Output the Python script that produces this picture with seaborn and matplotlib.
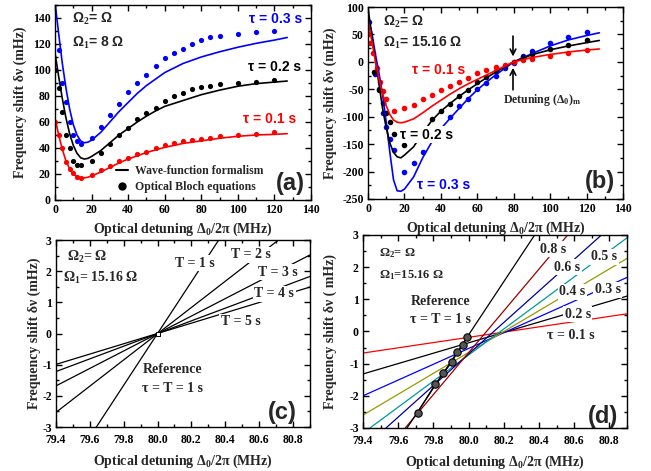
import matplotlib
matplotlib.use('Agg')
import matplotlib.pyplot as plt
from matplotlib.lines import Line2D
from matplotlib.ticker import MultipleLocator, FormatStrFormatter
import seaborn as sns

# ---------------- panel (a): Omega1 = 8 Omega ----------------
A_LINE_X = [0, 2, 4, 6, 8, 10, 12, 14, 16, 18, 20, 25, 30, 35, 40, 45, 50, 55, 60, 70, 80, 90, 100, 110, 120, 127]
A_LINE_03 = [152, 128, 105, 86, 70, 58, 50, 45.5, 44, 44.5, 46, 52, 60, 68, 75, 82, 88, 93, 98, 105, 110, 114, 117.5, 120.5, 123, 125]
A_LINE_02 = [113, 95, 78, 63, 51, 42, 36, 32.5, 31.5, 32, 33.5, 38, 44, 50, 55, 60, 64.5, 68.5, 72, 76.5, 81, 84.5, 87.5, 89.5, 90.7, 91.5]
A_LINE_01 = [63, 50, 39, 30, 24, 20, 18, 17, 17, 17.5, 18.5, 21.5, 25, 28.5, 31.5, 34, 36.5, 38.5, 40.5, 43.5, 45.5, 47.5, 49, 50, 50.5, 51]

A_DOT_X03 = [2, 4, 6, 8, 10, 12, 14, 20, 25, 30, 35, 40, 45, 50, 55, 60, 65, 70, 75, 80, 85, 90, 100, 110, 120]
A_DOT_03 = [115, 90, 75, 60, 50, 45, 43, 48, 56, 65, 74, 83, 90, 96, 103, 109, 113, 116, 120, 123, 125, 126, 128, 129, 130]
A_DOT_X = [0, 2, 4, 6, 8, 10, 12, 14, 20, 25, 30, 35, 40, 45, 50, 55, 60, 65, 70, 75, 80, 85, 90, 100, 110, 120]
A_DOT_02 = [100, 86, 68, 50, 40, 30, 27, 27, 30, 36, 43, 50, 55, 62, 67, 71, 76, 80, 82, 85, 87, 88, 89, 90, 91, 92]
A_DOT_01 = [60, 50, 40, 29, 24, 21, 18, 17, 19, 23, 26, 30, 32, 35, 37, 40, 42, 44, 45, 46, 47, 48, 49, 50, 51, 52]

# ---------------- panel (b): Omega1 = 15.16 Omega ----------------
B_LINE_X = [0, 2, 4, 6, 8, 10, 12, 14, 16, 18, 20, 25, 30, 35, 40, 45, 50, 55, 60, 65, 70, 75, 80, 90, 100, 110, 120, 127]
B_LINE_01 = [77, 40, 2, -30, -58, -80, -96, -106, -110, -111, -110, -104, -93, -81, -70, -59, -49, -40, -32, -24, -16, -8, 0, 8, 13.5, 18, 21.5, 23.5]
B_LINE_02 = [98, 50, 5, -40, -85, -120, -148, -165, -173, -175, -170, -155, -130, -107, -90, -76, -63, -51, -40, -29, -19, -9, 0, 13, 22, 29, 35, 39]
B_LINE_03 = [80, 55, 15, -20, -60, -110, -165, -215, -235, -236, -232, -210, -175, -146, -122, -103, -85, -67, -51, -37, -24, -12, 0, 15, 29, 40, 48, 53]

B_DOT_X01 = [0.5, 1, 2.5, 5, 6.5, 8, 10, 14, 20, 25, 30, 35, 40, 45, 50, 55, 60, 65, 70, 75, 80, 85, 90, 100, 110, 120]
B_DOT_01 = [50, 34, 16, -12, -36, -54, -68, -90, -85, -78, -68, -60, -51, -44, -37, -29, -21, -14, -9, -5, 0, 4, 6, 11, 16, 21]
B_DOT_X02 = [3.5, 6, 8, 10, 12, 14, 20, 35, 40, 45, 50, 55, 60, 65, 70, 75, 80, 85, 90, 100, 110, 120]
B_DOT_02 = [-19, -51, -75, -93, -110, -131, -151, -105, -90, -76, -63, -51, -37, -28, -16, -8, 0, 9, 15, 23, 31, 39]
B_DOT_X03 = [0.5, 4, 6, 8, 10, 12, 14, 20, 25, 30, 45, 50, 55, 60, 65, 70, 75, 80, 85, 90, 100, 110, 120]
B_DOT_03 = [73, -22, -50, -93, -119, -140, -160, -200, -185, -165, -100, -80, -68, -50, -38, -25, -11, -2, 11, 19, 34, 45, 54]

# ---------------- panel (c): straight lines, T = 1..5 s ----------------
C_X = [79.4, 80.9]
C_LINES = {
    'T1': [-4.98, 7.47],
    'T2': [-2.53, 3.78],
    'T3': [-1.68, 2.52],
    'T4': [-1.22, 1.83],
    'T5': [-0.99, 1.49],
}

# ---------------- panel (d): tau = 0.1..1 s ----------------
D_X = [79.4, 80.9]
D_LINES = [
    ('0.1', '#ff0000', [-0.67, 0.55]),
    ('0.2', '#000000', [-1.32, 1.10]),
    ('0.3', '#0000ff', [-2.00, 1.68]),
    ('0.4', '#999900', [-2.60, 2.27]),
    ('0.5', '#009999', [-3.16, 2.91]),
    ('0.6', '#000099', [-3.64, 3.71]),
    ('0.8', '#990000', [-4.56, 5.19]),
    ('1.0', '#000000', [-5.07, 7.34]),
]
D_REF_X = [79.71, 79.81, 79.856, 79.904, 79.936, 79.966, 79.993]
D_REF_Y = [-2.52, -1.64, -1.30, -0.96, -0.65, -0.43, -0.17]

BLUE = '#0000ff'
RED = '#ff0000'
SANS = ['Liberation Sans', 'DejaVu Sans']

sns.set_style('ticks')
plt.rcParams['font.family'] = ['Liberation Serif', 'DejaVu Serif']
plt.rcParams['font.weight'] = 'bold'
plt.rcParams['axes.labelweight'] = 'bold'
plt.rcParams['axes.unicode_minus'] = False
plt.rcParams['mathtext.fontset'] = 'custom'
plt.rcParams['mathtext.rm'] = 'Liberation Serif:bold'
plt.rcParams['mathtext.it'] = 'Liberation Serif:bold'
plt.rcParams['mathtext.bf'] = 'Liberation Serif:bold'

XLABEL = 'Optical detuning Δ$_0$/2π (MHz)'
WHITE = dict(facecolor='white', edgecolor='none', pad=1.0)


def style_axes(ax, xlim, ylim, xmaj, xmin, ymaj, ymin, xpad=3):
    ax.set_xlim(*xlim)
    ax.set_ylim(*ylim)
    ax.xaxis.set_major_locator(MultipleLocator(xmaj))
    ax.xaxis.set_minor_locator(MultipleLocator(xmin))
    ax.yaxis.set_major_locator(MultipleLocator(ymaj))
    ax.yaxis.set_minor_locator(MultipleLocator(ymin))
    ax.tick_params(which='both', direction='in', top=True, right=True,
                   width=1.0, labelsize=8.5, colors='black')
    ax.tick_params(which='major', length=4, pad=3)
    ax.tick_params(axis='x', which='major', pad=xpad)
    ax.tick_params(which='minor', length=2)
    for s in ax.spines.values():
        s.set_linewidth(1.0)
        s.set_color('black')


def bold_ticks(ax):
    for lab in ax.get_xticklabels() + ax.get_yticklabels():
        lab.set_fontweight('bold')
        lab.set_family(['Liberation Serif', 'DejaVu Serif'])


fig = plt.figure(figsize=(6.51, 4.71), dpi=100)
ax_a = fig.add_axes([0.0845, 0.5754, 0.3932, 0.414])
ax_b = fig.add_axes([0.5653, 0.5775, 0.3917, 0.4076])
ax_c = fig.add_axes([0.086, 0.0934, 0.390, 0.397])
ax_d = fig.add_axes([0.5576, 0.0913, 0.4055, 0.4098])

# ---- (a) ----
for y, c in [(A_LINE_03, BLUE), (A_LINE_02, 'black'), (A_LINE_01, RED)]:
    sns.lineplot(x=A_LINE_X, y=y, ax=ax_a, color=c, lw=1.2)
sns.scatterplot(x=A_DOT_X03, y=A_DOT_03, ax=ax_a, color=BLUE, s=14, linewidth=0)
sns.scatterplot(x=A_DOT_X, y=A_DOT_02, ax=ax_a, color='black', s=14, linewidth=0)
sns.scatterplot(x=A_DOT_X, y=A_DOT_01, ax=ax_a, color=RED, s=14, linewidth=0)
style_axes(ax_a, (0, 140), (0, 150), 20, 10, 20, 10)
ax_a.set_xlabel(XLABEL, fontsize=10, labelpad=3)
ax_a.set_ylabel('Frequency shift δν (mHz)', fontsize=10)
ax_a.text(9.3, 139, 'Ω$_2$= Ω', family=SANS, fontsize=10, va='center')
ax_a.text(9.3, 121, 'Ω$_1$= 8 Ω', family=SANS, fontsize=10, va='center')
ax_a.text(120.5, 139, 'τ = 0.3 s', family=SANS, fontsize=10, color=BLUE, ha='center', va='center')
ax_a.text(120.3, 102, 'τ = 0.2 s', family=SANS, fontsize=10, color='black', ha='center', va='center')
ax_a.text(117.5, 62.5, 'τ = 0.1 s', family=SANS, fontsize=10, color=RED, ha='center', va='center')
ax_a.text(128.5, 13, '(a)', family=SANS, fontsize=17, ha='center', va='center')
handles = [Line2D([], [], color='black', lw=1.5),
           Line2D([], [], color='black', marker='o', ls='', markersize=5)]
ax_a.legend(handles, ['Wave-function formalism', 'Optical Bloch equations'],
            loc='lower left', bbox_to_anchor=(0.21, 0.0), frameon=False,
            prop={'size': 8.5, 'weight': 'bold'}, handlelength=1.0,
            handletextpad=0.6, labelspacing=0.35, borderaxespad=0.2)

# ---- (b) ----
for y, c in [(B_LINE_03, BLUE), (B_LINE_02, 'black'), (B_LINE_01, RED)]:
    sns.lineplot(x=B_LINE_X, y=y, ax=ax_b, color=c, lw=1.2)
sns.scatterplot(x=B_DOT_X03, y=B_DOT_03, ax=ax_b, color=BLUE, s=16, linewidth=0)
sns.scatterplot(x=B_DOT_X02, y=B_DOT_02, ax=ax_b, color='black', s=16, linewidth=0)
sns.scatterplot(x=B_DOT_X01, y=B_DOT_01, ax=ax_b, color=RED, s=16, linewidth=0)
style_axes(ax_b, (0, 140), (-250, 100), 20, 10, 50, 25)
ax_b.set_xlabel(XLABEL, fontsize=10, labelpad=3)
ax_b.set_ylabel('Frequency shift δν (mHz)', fontsize=10)
ax_b.text(8.4, 73, 'Ω$_2$= Ω', family=SANS, fontsize=10, va='center')
ax_b.text(8.4, 34, 'Ω$_1$= 15.16 Ω', family=SANS, fontsize=10, va='center')
ax_b.text(38.6, -15, 'τ = 0.1 s', family=SANS, fontsize=10, color=RED, ha='center', va='center')
ax_b.text(31.9, -133, 'τ = 0.2 s', family=SANS, fontsize=10, color='black', ha='center',
          va='center', bbox=WHITE, zorder=5)
ax_b.text(41.7, -224, 'τ = 0.3 s', family=SANS, fontsize=10, color=BLUE, ha='center', va='center')
ax_b.text(95.4, -69.5, 'Detuning (Δ$_0$)$_{\\rm m}$', fontsize=8.5, ha='center', va='center')
ax_b.annotate('', xy=(79.6, 4.7), xytext=(79.6, 52),
              arrowprops=dict(arrowstyle='->', lw=1.2, color='black'))
ax_b.annotate('', xy=(79.6, -5.7), xytext=(79.6, -56),
              arrowprops=dict(arrowstyle='->', lw=1.2, color='black'))
ax_b.text(127.4, -218, '(b)', family=SANS, fontsize=17, ha='center', va='center')

# ---- (c) ----
for key, y in C_LINES.items():
    sns.lineplot(x=C_X, y=y, ax=ax_c, color='black', lw=0.9)
ax_c.scatter([80.0], [0.0], marker='s', s=6, facecolor='white', edgecolor='black', lw=0.7, zorder=4)
style_axes(ax_c, (79.4, 80.9), (-3, 3), 0.2, 0.1, 1, 0.5, xpad=5)
ax_c.xaxis.set_major_formatter(FormatStrFormatter('%.1f'))
ax_c.set_xlabel(XLABEL, fontsize=10, labelpad=5)
ax_c.set_ylabel('Frequency shift δν (mHz)', fontsize=10, labelpad=1)
ax_c.text(79.465, 2.45, 'Ω$_2$= Ω', fontsize=10, va='center')
ax_c.text(79.44, 1.78, 'Ω$_1$= 15.16 Ω', fontsize=10, va='center')
for lab, xx, yy in [('T = 1 s', 80.22, 2.26), ('T = 2 s', 80.55, 2.52), ('T = 3 s', 80.71, 1.97),
                    ('T = 4 s', 80.69, 1.27), ('T = 5 s', 80.49, 0.37)]:
    ax_c.text(xx, yy, lab, fontsize=10, ha='center', va='center', bbox=WHITE, zorder=5)
ax_c.text(80.09, -1.17, 'Reference', fontsize=10, ha='center', va='center')
ax_c.text(80.09, -1.75, 'τ = T = 1 s', fontsize=10, ha='center', va='center')
ax_c.text(80.74, -2.55, '(c)', family=SANS, fontsize=17, ha='center', va='center')

# ---- (d) ----
for tau, c, y in D_LINES:
    sns.lineplot(x=D_X, y=y, ax=ax_d, color=c, lw=0.9)
sns.lineplot(x=D_REF_X, y=D_REF_Y, ax=ax_d, color='black', lw=0.9)
sns.scatterplot(x=D_REF_X, y=D_REF_Y, ax=ax_d, color='#555555', edgecolor='black',
                linewidth=0.8, s=28, zorder=4)
style_axes(ax_d, (79.4, 80.9), (-3, 3), 0.2, 0.1, 1, 0.5, xpad=5)
ax_d.xaxis.set_major_formatter(FormatStrFormatter('%.1f'))
ax_d.set_xlabel(XLABEL, fontsize=10, labelpad=5)
ax_d.set_ylabel('Frequency shift δν ( mHz)', fontsize=10, labelpad=9)
ax_d.text(79.49, 2.45, 'Ω$_2$= Ω', fontsize=9, va='center')
ax_d.text(79.49, 1.75, 'Ω$_1$=15.16 Ω', fontsize=9, va='center')
ax_d.text(79.84, 0.92, 'Reference', fontsize=10, ha='center', va='center')
ax_d.text(79.84, 0.36, 'τ = T = 1 s', fontsize=10, ha='center', va='center')
for lab, xx, yy in [('0.8 s', 80.48, 2.56), ('0.6 s', 80.56, 2.0), ('0.5 s', 80.77, 2.32),
                    ('0.4 s', 80.59, 1.23), ('0.3 s', 80.79, 1.29), ('0.2 s', 80.62, 0.54),
                    ('τ = 0.1 s', 80.58, -0.14)]:
    ax_d.text(xx, yy, lab, fontsize=10, ha='center', va='center', bbox=WHITE, zorder=5)
ax_d.text(80.765, -2.65, '(d)', family=SANS, fontsize=17, ha='center', va='center')

for ax in (ax_a, ax_b, ax_c, ax_d):
    bold_ticks(ax)

fig.savefig('out.png', dpi=100)
